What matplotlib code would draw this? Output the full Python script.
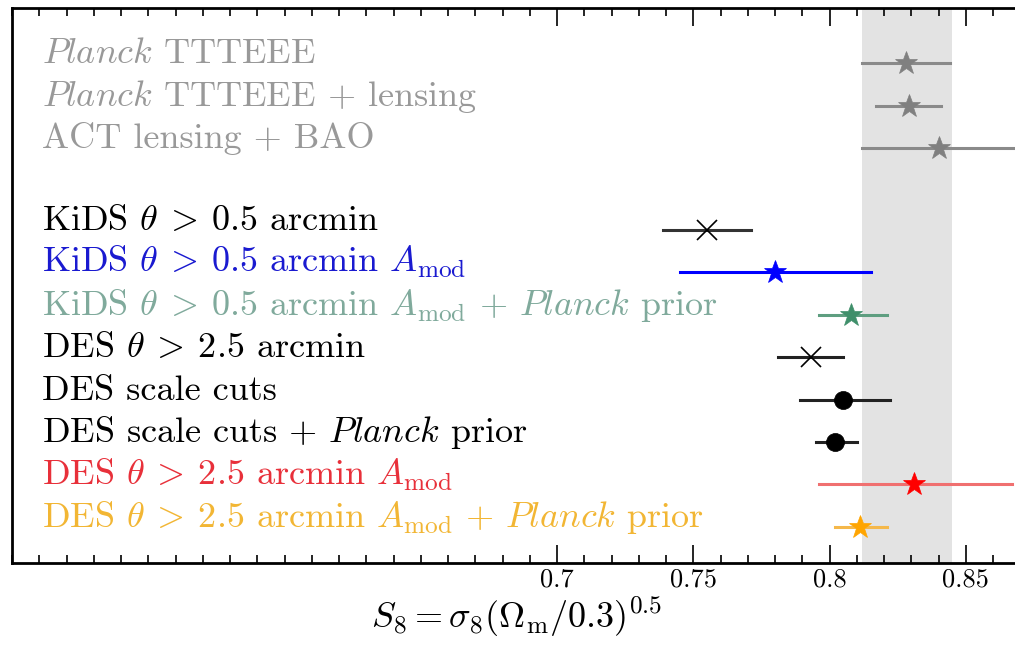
import numpy as np
import matplotlib
matplotlib.use("Agg")
import matplotlib.pyplot as plt

# S8 constraints (top to bottom)
labels = [
    r"$\mathit{Planck}$ TTTEEE",
    r"$\mathit{Planck}$ TTTEEE + lensing",
    r"ACT lensing + BAO",
    r"KiDS $\theta\:>\:0.5$ arcmin",
    r"KiDS $\theta\:>\:0.5$ arcmin $A_\mathrm{mod}$",
    r"KiDS $\theta\:>\:0.5$ arcmin $A_\mathrm{mod}$ + $\mathit{Planck}$ prior",
    r"DES $\theta\:>\:2.5$ arcmin",
    r"DES scale cuts",
    r"DES scale cuts + $\mathit{Planck}$ prior",
    r"DES $\theta\:>\:2.5$ arcmin $A_\mathrm{mod}$",
    r"DES $\theta\:>\:2.5$ arcmin $A_\mathrm{mod}$ + $\mathit{Planck}$ prior",
]
s8_mean = [0.828, 0.829, 0.840, 0.755, 0.780, 0.808, 0.793, 0.805, 0.802, 0.831, 0.811]
s8_lo   = [0.812, 0.817, 0.812, 0.739, 0.745, 0.796, 0.781, 0.789, 0.795, 0.796, 0.802]
s8_hi   = [0.844, 0.841, 0.868, 0.771, 0.815, 0.821, 0.805, 0.822, 0.810, 0.867, 0.821]
is_cmb  = [True, True, True, False, False, False, False, False, False, False, False]

planck_band = (0.812, 0.845)
major_ticks = [0.7, 0.75, 0.8, 0.85]
major_labels = ["0.7", "0.75", "0.8", "0.85"]

# styling per entry
markers = ["*", "*", "*", "x", "*", "*", "x", "o", "o", "*", "*"]
mcolors = ["#808080", "#808080", "#808080", "black", "blue", "#3f8f6a",
           "black", "black", "black", "red", "orange"]
lcolors = ["#8a8a8a", "#8a8a8a", "#8a8a8a", "#333333", "blue", "#5e9e80",
           "#222222", "#222222", "#222222", "#f07070", "#f5b84a"]
tcolors = ["#999999", "#999999", "#999999", "black", "#1a1ad0", "#80aa9c",
           "black", "black", "black", "#e8303a", "#f2b634"]

plt.rcParams["font.family"] = "serif"
plt.rcParams["font.serif"] = ["cmr10"]
plt.rcParams["mathtext.fontset"] = "cm"
plt.rcParams["axes.unicode_minus"] = False

fig = plt.figure(figsize=(10.15, 6.45), dpi=100)
fig.patch.set_facecolor("white")
ax = fig.add_axes([12 / 1015, 82 / 645, 1008.4 / 1015, 555 / 645])

# y positions: one empty slot between CMB and lensing entries
ypos = []
y = 0
for i, c in enumerate(is_cmb):
    if i > 0 and is_cmb[i - 1] and not c:
        y += 0.92
    ypos.append(y)
    y += 1

ax.axvspan(*planck_band, color="#e3e3e3", zorder=0, lw=0)

for i in range(len(labels)):
    m = markers[i]
    ms = 17 if m == "*" else (13 if m == "o" else 14)
    mew = 1.2 if m == "x" else 0.5
    ax.plot([s8_lo[i], s8_hi[i]], [ypos[i], ypos[i]], color=lcolors[i], lw=2.2, zorder=2)
    ax.plot(s8_mean[i], ypos[i], marker=m, color=mcolors[i], ms=ms,
            mew=mew, ls="none", zorder=3)
    ax.text(0.511, ypos[i], labels[i], color=tcolors[i], fontsize=26,
            va="baseline", ha="left")

ax.set_xlim(0.5, 0.87)
ax.set_ylim(ypos[-1] + 0.85, -1.3)
ax.set_yticks([])
ax.set_xticks(major_ticks)
ax.set_xticklabels(major_labels)
ax.set_xticks(np.arange(0.5, 0.871, 0.01), minor=True)
ax.tick_params(axis="x", which="both", direction="in", top=True, labelsize=19, width=1.2)
ax.tick_params(axis="x", which="major", length=13)
ax.tick_params(axis="x", which="minor", length=6)
for sp in ax.spines.values():
    sp.set_linewidth(2)

ax.set_xlabel(r"$S_8 = \sigma_8(\Omega_\mathrm{m}/0.3)^{0.5}$", fontsize=26, labelpad=2)

fig.savefig("out.png", dpi=100)
